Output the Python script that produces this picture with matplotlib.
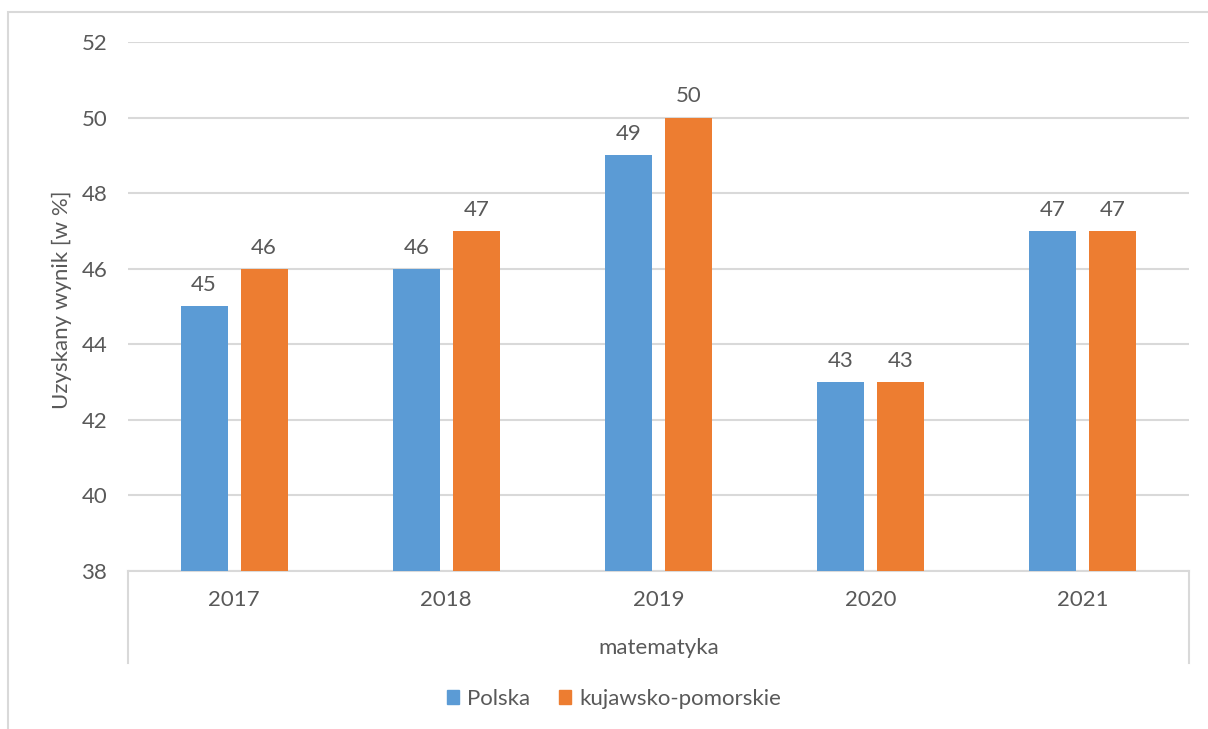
import numpy as np
import matplotlib.pyplot as plt
from matplotlib.patches import Rectangle
from matplotlib.lines import Line2D

# --- DATA ---
years = ["2017", "2018", "2019", "2020", "2021"]
polska = [45, 46, 49, 43, 47]
kujawsko = [46, 47, 50, 43, 47]
series_names = ["Polska", "kujawsko-pomorskie"]
group_label = "matematyka"
y_label = "Uzyskany wynik [w %]"
y_ticks = [38, 40, 42, 44, 46, 48, 50, 52]

# --- STYLE ---
W, H = 1208, 729
BLUE = "#5B9BD5"
ORANGE = "#ED7D31"
GRID = "#D9D9D9"
TXT = "#595959"
plt.rcParams["font.family"] = ["Lato", "DejaVu Sans"]

fig = plt.figure(figsize=(W / 100, H / 100), dpi=100)

# outer chart border (right and bottom run off the image)
fig.patches.append(Rectangle((8 / W, -0.1), 1.2, 1 - 12 / H + 0.1,
                             transform=fig.transFigure, fill=False,
                             edgecolor=GRID, linewidth=1.5))

left, right, top, bottom = 128, 1189, 42, 571
ax = fig.add_axes([left / W, 1 - bottom / H, (right - left) / W, (bottom - top) / H])

x = np.arange(len(years))
bw = 0.222
gap = 0.061
off = (bw + gap) / 2
b1 = ax.bar(x - off, polska, bw, color=BLUE, label=series_names[0], zorder=3)
b2 = ax.bar(x + off, kujawsko, bw, color=ORANGE, label=series_names[1], zorder=3)

for bars in (b1, b2):
    for r in bars:
        ax.annotate(f"{r.get_height():g}", (r.get_x() + r.get_width() / 2, r.get_height()),
                    xytext=(0, 8), textcoords="offset points", ha="center", va="bottom",
                    fontsize=16, color=TXT)

ax.set_xlim(-0.5, len(years) - 0.5)
ax.set_ylim(38, 52)
ax.set_yticks(y_ticks)
ax.set_yticklabels([str(t) for t in y_ticks])
ax.yaxis.grid(True, color=GRID, linewidth=1.5, zorder=0)
ax.tick_params(axis="y", length=0, pad=15, labelsize=16, labelcolor=TXT)
ax.set_xticks(x)
ax.set_xticklabels(years)
ax.tick_params(axis="x", length=0, pad=14, labelsize=16, labelcolor=TXT)
for s in ["top", "right", "left"]:
    ax.spines[s].set_visible(False)
ax.spines["bottom"].set_color(GRID)
ax.spines["bottom"].set_linewidth(1.5)

# multi-level category axis: side separators and group label
for xp in (left, right):
    fig.add_artist(Line2D([xp / W, xp / W], [1 - bottom / H, 1 - 663 / H],
                          color=GRID, linewidth=1.5))
fig.text((left + right) / 2 / W, 1 - 648 / H, group_label, ha="center", va="center",
         fontsize=16, color=TXT)

fig.text(62 / W, 1 - 300 / H, y_label, rotation=90, ha="center", va="center",
         fontsize=16, color=TXT)

handles = [Rectangle((0, 0), 1, 1, color=BLUE), Rectangle((0, 0), 1, 1, color=ORANGE)]
fig.legend(handles, series_names, loc="center", bbox_to_anchor=(614 / W, 1 - 699 / H),
           ncol=2, frameon=False, fontsize=16, labelcolor=TXT,
           handlelength=0.55, handleheight=0.55, handletextpad=0.35, columnspacing=1.3)

fig.savefig("out.png", dpi=100)
